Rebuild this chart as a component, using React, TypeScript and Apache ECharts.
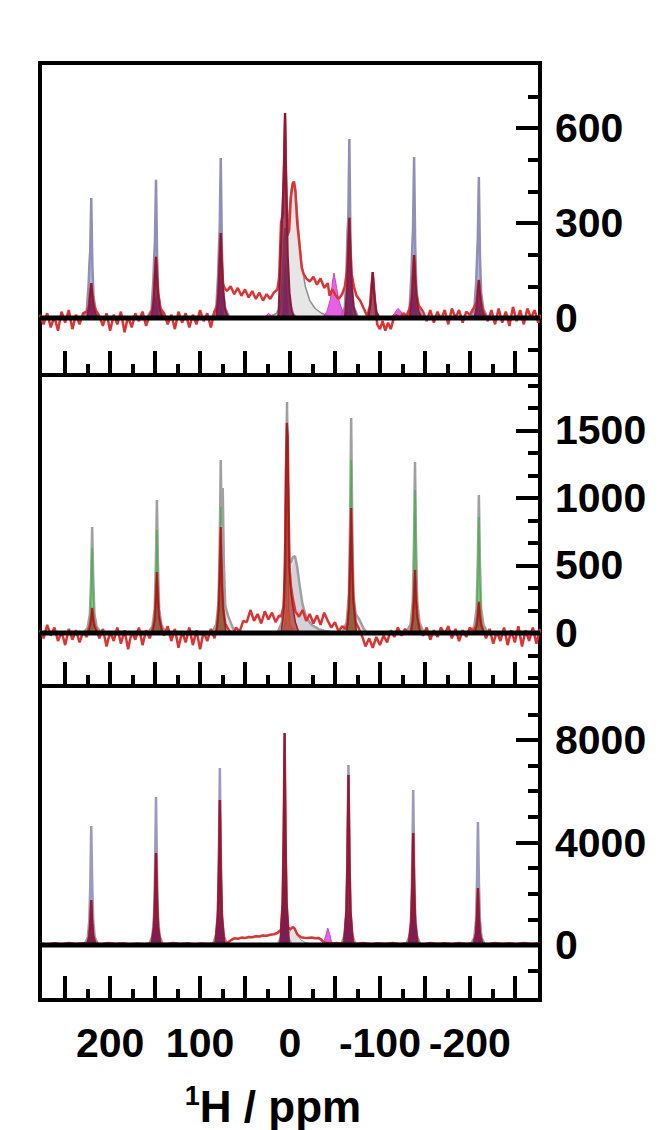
import { useEffect, useRef } from "react";
import * as echarts from "echarts";

type P = [number, number];

// ---------- axes ----------
const X_MIN = -278;
const X_MAX = 278;
const xMajorTicks = [250, 200, 150, 100, 50, 0, -50, -100, -150, -200, -250];
const xMinorTicks = [225, 175, 125, 75, 25, -25, -75, -125, -175, -225];
const xTickLabels = [200, 100, 0, -100, -200];

const y1Range = [-180, 805];
const y1Major = [0, 300, 600];
const y1Minor = [-100, 100, 200, 400, 500, 700];
const y2Range = [-393, 1911];
const y2Major = [0, 500, 1000, 1500];
const y2Minor = [-333.3, -166.7, 166.7, 333.3, 666.7, 833.3, 1166.7, 1333.3, 1666.7, 1833.3];
const y3Range = [-2146, 10107];
const y3Major = [0, 4000, 8000];
const y3Minor = [-1000, 1000, 2000, 3000, 5000, 6000, 7000, 9000];

// ---------- panel 1 ----------
const p1Broad: P[] = [[25,0],[15,15],[10,40],[7,100],[5,170],[3,260],[1,340],[-1,400],[-3,428],[-4.5,430],[-6,410],[-8,340],[-10,260],[-13,170],[-17,100],[-22,55],[-28,30],[-35,15],[-45,5],[-55,0]];
const p1Fit: P[] = [[278,0],
  [231,0],[226,23],[224,104],[223,174],[222.2,208],[221,379],[219.8,171],[218.5,68],[216,23],[211,0],
  [159,0],[154,26],[152,116],[151,193],[150.2,240],[149,436],[147.8,196],[146.5,78],[144,26],[139,0],
  [87,0],[82,30],[80,134],[79,224],[78.2,278],[77,505],[75.8,227],[74.5,91],[72,30],[67,0],
  [14,0],[10,40],[8,130],[6.2,250],[5,284],[3.8,200],[2.5,100],[0,40],[-4,10],[-8,0],
  [-56,0],[-61,34],[-63,167],[-64,278],[-64.8,311],[-66,565],[-67.2,254],[-68.5,102],[-71,34],[-76,0],
  [-128,0],[-133,30],[-135,138],[-136,230],[-136.8,279],[-138,508],[-139.2,229],[-140.5,91],[-143,30],[-148,0],
  [-200,0],[-205,27],[-207,114],[-208,190],[-208.8,245],[-210,445],[-211.2,200],[-212.5,80],[-215,27],[-220,0],
  [-278,0]];
const p1Mag: P[] = [[30,0],[26,8],[24,15],[21,8],[17,0],
  [-36,0],[-41,20],[-45,60],[-47.5,120],[-49,142],[-51,110],[-54,60],[-58,25],[-63,5],[-66,0],
  [-112,0],[-117,18],[-120,30],[-123,22],[-128,0]];
const p1Blue: P[] = [[225,0],[222.5,36],[221,60],[219.5,36],[217,0],
  [153,0],[150.5,48],[149,80],[147.5,48],[145,0],
  [81,0],[78.5,90],[77,150],[75.5,90],[73,0],
  [9,0],[6.5,108],[5,180],[3.5,108],[1,0],
  [-62,0],[-64.5,114],[-66,190],[-67.5,114],[-70,0],
  [-134,0],[-136.5,60],[-138,100],[-139.5,60],[-142,0],
  [-206,0],[-208.5,36],[-210,60],[-211.5,36],[-214,0]];
const p1Maroon: P[] = [
  [226,0],[223.5,33],[222.2,77],[221,110],[219.8,72],[218.5,39],[216.5,13],[213,0],
  [154,0],[151.5,58],[150.2,135],[149,193],[147.8,125],[146.5,68],[144.5,23],[141,0],
  [82,0],[79.5,80],[78.2,188],[77,268],[75.8,174],[74.5,94],[72.5,32],[69,0],
  [13,0],[11,150],[9,300],[7,450],[5.5,647],[4,420],[2.5,200],[0.5,80],[-2,20],[-5,0],
  [-61,0],[-63.5,95],[-64.8,221],[-66,316],[-67.2,205],[-68.5,111],[-70.5,38],[-74,0],
  [-87,0],[-89.5,44],[-90.8,102],[-92,145],[-93.2,94],[-94.5,51],[-96.5,17],[-100,0],
  [-133,0],[-135.5,60],[-136.8,139],[-138,199],[-139.2,129],[-140.5,70],[-142.5,24],[-146,0],
  [-205,0],[-207.5,36],[-208.8,84],[-210,120],[-211.2,78],[-212.5,42],[-214.5,14],[-218,0]];
const p1Exp: P[] = [[278,10],[274,-20],[270,15],[266,-30],[262,5],[258,-40],[254,20],[250,-15],[246,25],[242,-35],[238,10],[234,-20],[230,15],[226,20],[223.5,40],[222.2,80],[221,110],[219.8,75],[218.5,45],[216,25],[212,5],[208,-25],[204,15],[200,-40],[196,10],[192,-20],[188,20],[184,-45],[180,5],[176,-30],[172,15],[168,-10],[164,20],[160,-25],[156,10],[153,25],[151.5,65],[150.2,140],[149,193],[147.8,130],[146.5,75],[144,30],[140,15],[136,-20],[132,10],[128,-35],[124,20],[120,-15],[116,15],[112,-30],[108,10],[104,-20],[100,25],[96,-10],[92,15],[88,-30],[84,20],[81,40],[79.5,90],[78.2,195],[77,268],[75.8,180],[74.5,110],[73,95],[70,85],[66,100],[62,75],[58,95],[54,70],[50,90],[46,65],[42,85],[38,60],[34,80],[30,55],[26,75],[22,60],[18,80],[14,90],[12,130],[10,300],[8,330],[6.5,500],[5.5,647],[4.5,450],[3,260],[1,275],[-1,380],[-3,425],[-4.5,430],[-6,400],[-8,300],[-10,246],[-13,160],[-15,140],[-18,125],[-22,115],[-26,130],[-30,105],[-34,125],[-38,95],[-42,110],[-44,70],[-47,90],[-50,75],[-54,60],[-58,75],[-61,100],[-63.5,150],[-64.8,230],[-66,316],[-67.2,210],[-68.5,140],[-71,100],[-74,70],[-78,55],[-82,30],[-86,5],[-89,40],[-90.8,105],[-92,145],[-93.2,100],[-95,40],[-97,-20],[-100,-35],[-103,-10],[-106,-40],[-109,-15],[-112,-35],[-115,-5],[-118,10],[-122,0],[-126,15],[-130,5],[-133,30],[-135.5,70],[-136.8,145],[-138,199],[-139.2,135],[-140.5,75],[-143,40],[-148,20],[-152,-10],[-156,25],[-160,-15],[-164,20],[-168,-5],[-172,25],[-176,-20],[-180,30],[-184,0],[-188,25],[-192,-15],[-196,20],[-200,10],[-204,30],[-207.5,50],[-208.8,90],[-210,120],[-211.2,85],[-212.5,50],[-215,20],[-220,-10],[-224,25],[-228,-20],[-232,30],[-236,-15],[-240,20],[-244,-25],[-248,35],[-252,-10],[-256,25],[-260,-20],[-264,30],[-268,0],[-272,25],[-276,-15],[-278,10]];

// ---------- panel 2 ----------
const p2Broad: P[] = [[20,0],[10,30],[6,80],[3,200],[0,380],[-3,500],[-5.5,541],[-8,480],[-11,330],[-14,200],[-18,110],[-24,55],[-32,25],[-42,8],[-52,0]];
const p2Fit: P[] = [[278,0],
  [230,0],[225,39],[222.5,141],[221.2,393],[220,785],[218.8,393],[217.5,141],[215,47],[210,0],
  [158,0],[153,49],[150.5,177],[149.2,493],[148,985],[146.8,493],[145.5,177],[143,59],[138,0],
  [87,0],[82,64],[79.5,230],[78.2,640],[77,1281],[76,800],[74.8,1074],[73.6,520],[72,200],[69,130],[65,60],[61,0],
  [14,0],[9,80],[6.5,260],[5,800],[3.3,1711],[2,800],[1,540],[-1,520],[-3,560],[-5.5,570],[-8,490],[-11,340],[-14,210],[-18,115],[-24,60],[-32,28],[-42,10],[-52,0],
  [-58,0],[-63,80],[-65.5,287],[-66.8,797],[-68,1593],[-69.2,797],[-70.5,287],[-73,140],[-77,100],[-82,30],[-86,0],
  [-129,0],[-134,63],[-136.5,228],[-137.8,634],[-139,1267],[-140.2,634],[-141.5,228],[-144,76],[-149,0],
  [-200,0],[-205,51],[-207.5,184],[-208.8,511],[-210,1022],[-211.2,511],[-212.5,184],[-215,61],[-220,0],
  [-278,0]];
const p2Green: P[] = [
  [225,0],[222.5,95],[221.2,284],[220,630],[218.8,284],[217.5,95],[215,0],
  [153,0],[150.5,114],[149.2,343],[148,763],[146.8,343],[145.5,114],[143,0],
  [82,0],[79.5,140],[78.2,420],[77,933],[75.8,420],[74.5,140],[72,0],
  [-63,0],[-65.5,192],[-66.8,576],[-68,1281],[-69.2,576],[-70.5,192],[-73,0],
  [-134,0],[-136.5,159],[-137.8,477],[-139,1059],[-140.2,477],[-141.5,159],[-144,0],
  [-205,0],[-207.5,129],[-208.8,387],[-210,859],[-211.2,387],[-212.5,129],[-215,0]];
const p2Orange: P[] = [[7,0],[4.5,150],[3,1050],[1.5,200],[0,60],[-4,15],[-8,0]];
const p2Red: P[] = [
  [225,0],[222.5,37],[221.2,102],[220,185],[218.8,102],[217.5,46],[214,0],
  [153,0],[150.5,90],[149.2,249],[148,452],[146.8,249],[145.5,113],[142,0],
  [82,0],[79.5,157],[78.2,432],[77,785],[75.8,432],[74.5,196],[71,0],
  [10,0],[7,150],[5.5,500],[4.5,1200],[3.5,1556],[2.5,1450],[1.5,900],[0.5,450],[-1,300],[-3,200],[-6,80],[-10,0],
  [-63,0],[-65.5,185],[-66.8,509],[-68,926],[-69.2,509],[-70.5,232],[-74,0],
  [-134,0],[-136.5,93],[-137.8,257],[-139,467],[-140.2,257],[-141.5,117],[-145,0],
  [-205,0],[-207.5,46],[-208.8,127],[-210,230],[-211.2,127],[-212.5,58],[-216,0]];
const p2Exp: P[] = [[278,20],[274,-40],[270,60],[266,-20],[262,40],[258,-60],[254,10],[250,-90],[246,30],[242,-50],[238,20],[234,-70],[230,10],[226,-30],[224,30],[222.5,55],[221.2,110],[220,185],[218.8,110],[217.5,60],[215,20],[212,-40],[208,30],[204,-100],[200,10],[196,-60],[192,40],[188,-80],[184,20],[180,-120],[176,10],[172,-50],[168,40],[164,-90],[160,20],[156,-40],[152,50],[150.5,100],[149.2,260],[148,452],[146.8,260],[145.5,120],[143,40],[140,-20],[136,50],[132,-60],[128,30],[124,-110],[120,10],[116,-70],[112,40],[108,-90],[104,20],[100,-120],[96,10],[92,-60],[88,30],[84,-40],[81,50],[79.5,165],[78.2,440],[77,785],[75.8,440],[74.5,200],[72,70],[68,20],[64,-10],[60,40],[56,10],[52,90],[48,80],[44,170],[40,90],[36,140],[32,70],[28,160],[24,100],[20,150],[16,80],[12,130],[10,120],[7,200],[5.5,520],[4.5,1200],[3.5,1556],[2.5,1450],[1.5,900],[0.5,480],[-1,350],[-3,260],[-6,160],[-10,120],[-14,170],[-18,90],[-22,140],[-26,70],[-30,130],[-34,60],[-38,150],[-42,90],[-46,40],[-50,80],[-54,10],[-58,50],[-62,30],[-64,60],[-65.5,190],[-66.8,520],[-68,926],[-69.2,520],[-70.5,240],[-73,80],[-76,40],[-80,-20],[-84,-100],[-88,-40],[-92,-110],[-96,-30],[-100,-90],[-104,-20],[-108,-70],[-112,20],[-116,-30],[-120,40],[-124,-20],[-128,30],[-132,-10],[-135,30],[-136.5,100],[-137.8,265],[-139,467],[-140.2,265],[-141.5,125],[-144,30],[-148,-20],[-152,40],[-156,-50],[-160,20],[-164,-30],[-168,40],[-172,-10],[-176,50],[-180,-40],[-184,30],[-188,-60],[-192,20],[-196,-30],[-200,40],[-204,10],[-206,40],[-207.5,60],[-208.8,135],[-210,230],[-211.2,135],[-212.5,65],[-215,20],[-218,-40],[-222,30],[-226,-80],[-230,10],[-234,-60],[-238,40],[-242,-90],[-246,20],[-250,-70],[-254,50],[-258,-100],[-262,20],[-266,-60],[-270,40],[-274,-80],[-278,30]];

// ---------- panel 3 ----------
const p3Broad: P[] = [[12,0],[6,150],[2,400],[-1,600],[-3,663],[-5,600],[-8,400],[-12,200],[-18,80],[-26,20],[-34,0]];
const p3Fit: P[] = [[278,0],
  [229,0],[225,279],[223.2,929],[222.1,2322],[221,4643],[219.9,2322],[218.8,929],[217,279],[213,0],
  [157,0],[153,347],[151.2,1155],[150.1,2888],[149,5775],[147.9,2888],[146.8,1155],[145,347],[141,0],
  [86,0],[82,414],[80.2,1381],[79.1,3454],[78,6907],[76.9,3454],[75.8,1381],[74,414],[70,0],
  [14,0],[10,300],[8.2,800],[7.1,1600],[6,3044],[4.9,1600],[3.8,800],[2,300],[-2,0],
  [-57,0],[-61,421],[-62.8,1405],[-63.9,3512],[-65,7024],[-66.1,3512],[-67.2,1405],[-69,421],[-73,0],
  [-129,0],[-133,363],[-134.8,1210],[-135.9,3024],[-137,6048],[-138.1,3024],[-139.2,1210],[-141,363],[-145,0],
  [-201,0],[-205,288],[-206.8,960],[-207.9,2400],[-209,4800],[-210.1,2400],[-211.2,960],[-213,288],[-217,0],
  [-278,0]];
const p3Mag: P[] = [[-34,0],[-38,150],[-40,400],[-42,663],[-44,450],[-46,150],[-50,0]];
const p3Blue: P[] = [
  [225,0],[222.5,282],[221,470],[219.5,282],[217,0],
  [153,0],[150.5,585],[149,975],[147.5,585],[145,0],
  [82,0],[79.5,749],[78,1249],[76.5,749],[74,0],
  [10,0],[7.5,1522],[6,2536],[4.5,1522],[2,0],
  [-61,0],[-63.5,820],[-65,1366],[-66.5,820],[-69,0],
  [-133,0],[-135.5,890],[-137,1483],[-138.5,890],[-141,0],
  [-205,0],[-207.5,983],[-209,1639],[-210.5,983],[-213,0]];
const p3Maroon: P[] = [
  [226,0],[223.2,351],[222.1,878],[221,1756],[219.9,878],[218.8,351],[216,0],
  [154,0],[151.2,718],[150.1,1795],[149,3590],[147.9,1795],[146.8,718],[144,0],
  [83,0],[80.2,1132],[79.1,2829],[78,5658],[76.9,2829],[75.8,1132],[73,0],
  [11,0],[8.2,1654],[7.1,4136],[6,8272],[4.9,4136],[3.8,1654],[1,0],
  [-60,0],[-62.8,1327],[-63.9,3317],[-65,6634],[-66.1,3317],[-67.2,1327],[-70,0],
  [-132,0],[-134.8,874],[-135.9,2185],[-137,4370],[-138.1,2185],[-139.2,874],[-142,0],
  [-204,0],[-206.8,445],[-207.9,1112],[-209,2224],[-210.1,1112],[-211.2,445],[-214,0]];
const p3Exp: P[] = [[278,60],[270,20],[262,70],[254,30],[246,80],[238,40],[230,70],[225,60],[223.2,351],[222.1,878],[221,1756],[219.9,878],[218.8,351],[216,60],[210,30],[202,80],[194,40],[186,70],[178,20],[170,60],[162,30],[154,70],[151.2,718],[150.1,1795],[149,3590],[147.9,1795],[146.8,718],[144,70],[138,30],[130,80],[122,40],[114,70],[106,30],[98,60],[90,40],[83,70],[80.2,1132],[79.1,2829],[78,5658],[76.9,2829],[75.8,1132],[73,100],[70,80],[66,180],[62,260],[58,240],[54,290],[50,270],[46,310],[42,300],[38,340],[34,330],[30,370],[26,360],[22,400],[18,420],[14,470],[10,600],[8.2,1654],[7.1,4136],[6,8272],[4.9,4136],[3.8,1654],[2,700],[0,600],[-3,700],[-5,650],[-8,420],[-12,300],[-16,280],[-20,270],[-24,290],[-28,260],[-32,270],[-35,200],[-37,120],[-40,90],[-44,80],[-48,60],[-52,80],[-56,50],[-60,90],[-62.8,1327],[-63.9,3317],[-65,6634],[-66.1,3317],[-67.2,1327],[-70,90],[-74,40],[-82,80],[-90,30],[-98,70],[-106,40],[-114,80],[-122,30],[-130,70],[-132,80],[-134.8,874],[-135.9,2185],[-137,4370],[-138.1,2185],[-139.2,874],[-142,70],[-148,30],[-156,80],[-164,40],[-172,70],[-180,30],[-188,80],[-196,40],[-204,70],[-206.8,445],[-207.9,1112],[-209,2224],[-210.1,1112],[-211.2,445],[-214,60],[-220,30],[-228,80],[-236,40],[-244,70],[-252,30],[-260,80],[-268,40],[-278,70]];

const baseline: P[] = [[X_MAX, 0], [X_MIN, 0]];

const FONT = "'Liberation Sans', Arial, sans-serif";
const LABEL_SIZE = 41;

function mk(g: number, data: P[], color: string, width: number, fill: string | null, z: number) {
  return {
    type: "line",
    xAxisIndex: g * 2,
    yAxisIndex: g * 2,
    data,
    symbol: "none",
    showSymbol: false,
    silent: true,
    z,
    lineStyle: { color, width, opacity: width > 0 ? 1 : 0 },
    areaStyle: fill ? { color: fill, opacity: 1 } : undefined,
  };
}

function buildOption() {
  const grids = [
    { left: 40, top: 63, width: 500, height: 312 },
    { left: 40, top: 375, width: 500, height: 311 },
    { left: 40, top: 686, width: 500, height: 314 },
  ].map((g) => ({ ...g, show: true, borderColor: "#000", borderWidth: 4, containLabel: false, outerBoundsMode: "none" }));

  const yr = [y1Range, y2Range, y3Range];
  const ymaj = [y1Major, y2Major, y3Major];
  const ymin = [y1Minor, y2Minor, y3Minor];
  const fmt = (v: number) => String(Math.round(v));

  const xAxis: any[] = [];
  const yAxis: any[] = [];
  for (let g = 0; g < 3; g++) {
    const base = {
      gridIndex: g, type: "value", min: X_MIN, max: X_MAX, inverse: true, position: "bottom",
      axisLine: { show: false, onZero: false }, splitLine: { show: false },
    };
    xAxis.push({
      ...base,
      axisTick: { show: true, inside: true, length: 24, lineStyle: { color: "#000", width: 4 }, customValues: xMajorTicks },
      axisLabel: g === 2
        ? { show: true, customValues: xTickLabels, formatter: fmt, fontSize: LABEL_SIZE, fontWeight: "bold", fontFamily: FONT, color: "#000", margin: 22 }
        : { show: false },
      ...(g === 2
        ? {
            name: "{s|1}{n|H / ppm}",
            nameLocation: "middle",
            nameGap: 82,
            nameTextStyle: {
              padding: [0, 34, 0, 0],
              rich: {
                s: { fontSize: 27, fontWeight: "bold", fontFamily: FONT, color: "#000", verticalAlign: "top", lineHeight: 30 },
                n: { fontSize: 44, fontWeight: "bold", fontFamily: FONT, color: "#000", lineHeight: 48 },
              },
            },
          }
        : {}),
    });
    xAxis.push({
      ...base,
      axisTick: { show: true, inside: true, length: 11, lineStyle: { color: "#000", width: 4 }, customValues: xMinorTicks },
      axisLabel: { show: false },
    });
    const ybase = {
      gridIndex: g, type: "value", min: yr[g][0], max: yr[g][1], position: "right",
      axisLine: { show: false, onZero: false }, splitLine: { show: false },
    };
    yAxis.push({
      ...ybase,
      axisTick: { show: true, inside: true, length: 24, lineStyle: { color: "#000", width: 4 }, customValues: ymaj[g] },
      axisLabel: { show: true, customValues: ymaj[g], formatter: fmt, fontSize: LABEL_SIZE, fontWeight: "bold", fontFamily: FONT, color: "#000", margin: 15 },
    });
    yAxis.push({
      ...ybase,
      axisTick: { show: true, inside: true, length: 12, lineStyle: { color: "#000", width: 4 }, customValues: ymin[g] },
      axisLabel: { show: false },
    });
  }

  const series = [
    // panel 1
    mk(0, p1Broad, "#8e8e8e", 1.5, "#e6e6e6", 2),
    mk(0, p1Fit, "#8f8fb8", 2.5, "rgba(120,120,210,0.55)", 3),
    mk(0, p1Mag, "#d040d0", 1, "rgba(225,70,225,0.85)", 4),
    mk(0, p1Blue, "#4848ff", 0, "rgba(70,70,255,0.7)", 5),
    mk(0, p1Exp, "#dd3333", 2.5, null, 6),
    mk(0, p1Maroon, "#8b1a3a", 2, "rgba(130,18,50,0.75)", 7),
    mk(0, baseline, "#000", 5, null, 10),
    // panel 2
    mk(1, p2Broad, "#9a9a9a", 0, "#e8e2e0", 2),
    mk(1, p2Fit, "#a0a0a0", 2.5, "rgba(170,170,205,0.3)", 3),
    mk(1, p2Green, "#4caf50", 1, "rgba(90,200,90,0.8)", 4),
    mk(1, p2Orange, "#d09030", 1, "rgba(235,150,60,0.55)", 5),
    mk(1, p2Exp, "#dd3333", 2.5, null, 6),
    mk(1, p2Red, "#9a2020", 1.5, "rgba(165,25,25,0.6)", 7),
    mk(1, baseline, "#000", 5, null, 10),
    // panel 3
    mk(2, p3Broad, "#9a9a9a", 1, "#e2e2e2", 2),
    mk(2, p3Fit, "#9a9ac0", 2.5, "rgba(120,120,205,0.6)", 3),
    mk(2, p3Mag, "#d040d0", 1, "rgba(225,70,225,0.85)", 4),
    mk(2, p3Blue, "#3c3cfa", 0, "rgba(60,60,250,0.75)", 5),
    mk(2, p3Exp, "#d93535", 2.5, null, 6),
    mk(2, p3Maroon, "#8e1a3a", 2, "rgba(130,15,50,0.8)", 7),
    mk(2, baseline, "#000", 5, null, 10),
  ];

  return {
    animation: false,
    backgroundColor: "#fff",
    textStyle: { fontFamily: FONT },
    grid: grids,
    xAxis,
    yAxis,
    series,
  };
}

export default function App() {
  const ref = useRef<HTMLDivElement>(null);
  useEffect(() => {
    const chart = echarts.init(ref.current!, null, { renderer: "svg" });
    chart.setOption(buildOption() as any);
    return () => chart.dispose();
  }, []);
  return (
    <div
      ref={ref}
      style={{ position: "fixed", left: 0, top: 0, width: 668, height: 1130, background: "#fff" }}
    />
  );
}
